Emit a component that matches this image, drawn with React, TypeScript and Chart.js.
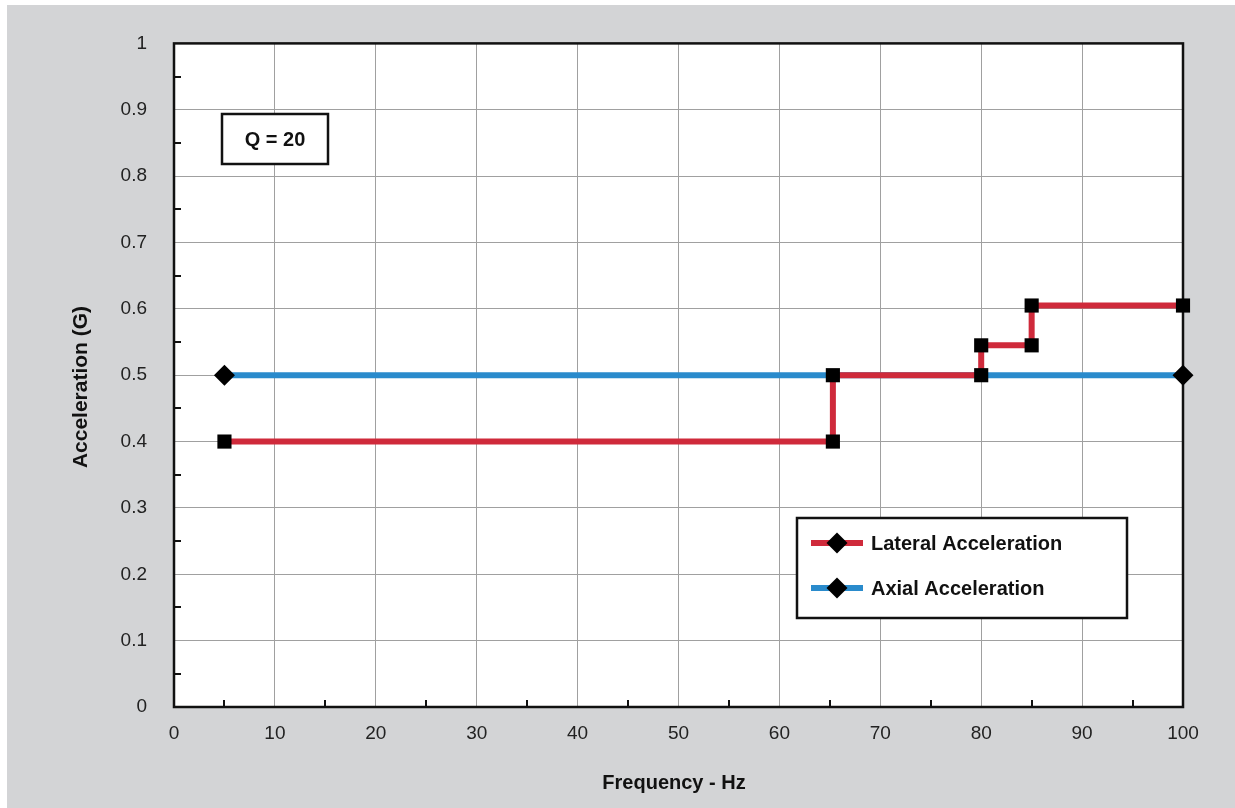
import React, { useEffect, useRef } from "react";
import { Chart, registerables } from "chart.js";

Chart.register(...registerables);

const lateralX = [5, 65.3, 65.3, 80, 80, 85, 85, 100];
const lateralY = [0.4, 0.4, 0.5, 0.5, 0.545, 0.545, 0.605, 0.605];
const axialX = [5, 100];
const axialY = [0.5, 0.5];
const seriesLabels = ["Lateral Acceleration", "Axial Acceleration"];
const xTitle = "Frequency - Hz";
const yTitle = "Acceleration (G)";
const noteText = "Q = 20";
const xMinorTicks = [5, 15, 25, 35, 45, 55, 65, 75, 85, 95];
const yMinorTicks = [0.05, 0.15, 0.25, 0.35, 0.45, 0.55, 0.65, 0.75, 0.85, 0.95];

const RED = "#cf2a3b";
const BLUE = "#2a8bcc";
const FONT = "'Liberation Sans', Arial, sans-serif";

const decorPlugin = {
  id: "decor",
  beforeDatasetsDraw(chart: any) {
    const { ctx, chartArea: a, scales } = chart;
    ctx.save();
    ctx.strokeStyle = "#111";
    ctx.lineWidth = 2;
    ctx.beginPath();
    for (const v of xMinorTicks) {
      const px = Math.round(scales.x.getPixelForValue(v));
      ctx.moveTo(px, a.bottom);
      ctx.lineTo(px, a.bottom - 7);
    }
    for (const v of yMinorTicks) {
      const py = Math.round(scales.y.getPixelForValue(v));
      ctx.moveTo(a.left, py);
      ctx.lineTo(a.left + 7, py);
    }
    ctx.stroke();
    ctx.lineWidth = 2.5;
    ctx.strokeStyle = "#111";
    ctx.strokeRect(a.left, a.top, a.right - a.left, a.bottom - a.top);
    ctx.fillStyle = "#fff";
    ctx.fillRect(215, 109, 106, 50);
    ctx.strokeRect(215, 109, 106, 50);
    ctx.fillStyle = "#111";
    ctx.font = `bold 20px ${FONT}`;
    ctx.textAlign = "center";
    ctx.textBaseline = "middle";
    ctx.fillText(noteText, 268, 135);
    ctx.font = `bold 20px ${FONT}`;
    ctx.fillText(xTitle, 667, 778);
    ctx.save();
    ctx.translate(74, 382);
    ctx.rotate(-Math.PI / 2);
    ctx.font = `bold 21px ${FONT}`;
    ctx.fillText(yTitle, 0, 0);
    ctx.restore();
    ctx.restore();
  },
  afterDatasetsDraw(chart: any) {
    const { ctx } = chart;
    ctx.save();
    ctx.fillStyle = "#fff";
    ctx.fillRect(790, 513, 330, 100);
    ctx.lineWidth = 2.5;
    ctx.strokeStyle = "#111";
    ctx.strokeRect(790, 513, 330, 100);
    const rows = [538, 583];
    chart.data.datasets.forEach((ds: any, i: number) => {
      const y = rows[i];
      ctx.strokeStyle = ds.borderColor;
      ctx.lineWidth = 6;
      ctx.beginPath();
      ctx.moveTo(804, y);
      ctx.lineTo(856, y);
      ctx.stroke();
      ctx.fillStyle = "#000";
      ctx.beginPath();
      ctx.moveTo(830, y - 10.5);
      ctx.lineTo(840.5, y);
      ctx.lineTo(830, y + 10.5);
      ctx.lineTo(819.5, y);
      ctx.closePath();
      ctx.fill();
      ctx.fillStyle = "#111";
      ctx.font = `bold 20px ${FONT}`;
      ctx.textAlign = "left";
      ctx.textBaseline = "middle";
      ctx.fillText(ds.label, 864, y + 1);
    });
    ctx.restore();
  },
  beforeDraw(chart: any) {
    const { ctx, chartArea: a } = chart;
    ctx.save();
    ctx.fillStyle = "#fff";
    ctx.fillRect(a.left, a.top, a.right - a.left, a.bottom - a.top);
    ctx.restore();
  },
};

export default function App() {
  const ref = useRef<HTMLCanvasElement>(null);
  useEffect(() => {
    if (!ref.current) return;
    const chart = new Chart(ref.current, {
      type: "scatter",
      data: {
        datasets: [
          {
            label: seriesLabels[0],
            data: lateralX.map((x, i) => ({ x, y: lateralY[i] })),
            showLine: true,
            borderColor: RED,
            borderWidth: 6,
            pointStyle: "rect",
            pointRadius: 10,
            pointBackgroundColor: "#000",
            pointBorderColor: "#000",
            pointBorderWidth: 0,
            tension: 0,
            clip: false,
          } as any,
          {
            label: seriesLabels[1],
            data: axialX.map((x, i) => ({ x, y: axialY[i] })),
            showLine: true,
            borderColor: BLUE,
            borderWidth: 6,
            pointStyle: "rectRot",
            pointRadius: 10.5,
            pointBackgroundColor: "#000",
            pointBorderColor: "#000",
            pointBorderWidth: 0,
            tension: 0,
            clip: false,
          } as any,
        ],
      },
      options: {
        animation: false,
        responsive: false,
        maintainAspectRatio: false,
        layout: { padding: { top: 36, right: 52, left: 0, bottom: 0 } },
        plugins: {
          legend: { display: false },
          tooltip: { enabled: false },
          title: { display: false },
        },
        scales: {
          x: {
            type: "linear",
            min: 0,
            max: 100,
            ticks: {
              stepSize: 10,
              padding: 15,
              color: "#222",
              font: { family: FONT, size: 19 },
            },
            grid: { color: "#a0a0a0", lineWidth: 1, drawTicks: false },
            border: { display: false },
            afterFit: (s: any) => {
              s.height = 101;
            },
          },
          y: {
            type: "linear",
            min: 0,
            max: 1,
            ticks: {
              stepSize: 0.1,
              padding: 27,
              color: "#222",
              font: { family: FONT, size: 19 },
              callback: (v: any) => String(Number(Number(v).toFixed(2))),
            },
            grid: { color: "#a0a0a0", lineWidth: 1, drawTicks: false },
            border: { display: false },
            afterFit: (s: any) => {
              s.width = 167;
            },
          },
        },
      },
      plugins: [decorPlugin],
    });
    return () => chart.destroy();
  }, []);
  return (
    <div
      style={{
        position: "absolute",
        left: 7,
        top: 5,
        width: 1228,
        height: 803,
        background: "#d3d4d6",
      }}
    >
      <canvas ref={ref} width={1228} height={803} style={{ display: "block" }} />
    </div>
  );
}
